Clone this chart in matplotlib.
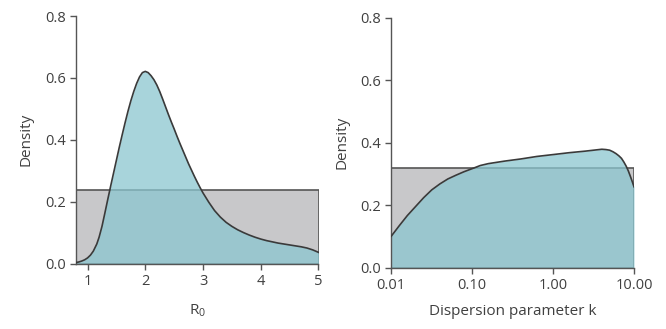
import numpy as np
import matplotlib
matplotlib.use("Agg")
import matplotlib.pyplot as plt
from matplotlib.patches import Rectangle

plt.rcParams["font.family"] = ["Open Sans", "DejaVu Sans"]
TXT = "#404040"

# ---- left panel: R0 posterior vs uniform prior ----
r0_x = [0.80, 0.85, 0.90, 0.95, 1.00, 1.05, 1.10, 1.16, 1.20, 1.25, 1.30, 1.35,
        1.40, 1.45, 1.50, 1.55, 1.60, 1.65, 1.70, 1.75, 1.80, 1.85, 1.90, 1.95,
        2.00, 2.05, 2.10, 2.15, 2.20, 2.25, 2.30, 2.35, 2.40, 2.45, 2.50, 2.55,
        2.60, 2.65, 2.70, 2.75, 2.80, 2.85, 2.90, 2.95, 3.00, 3.10, 3.20, 3.30,
        3.40, 3.50, 3.60, 3.70, 3.80, 3.90, 4.00, 4.10, 4.20, 4.30, 4.40, 4.50,
        4.60, 4.70, 4.80, 4.90, 5.00]
r0_y = [0.003, 0.005, 0.008, 0.012, 0.018, 0.027, 0.040, 0.063, 0.085, 0.120,
        0.163, 0.207, 0.250, 0.292, 0.334, 0.376, 0.416, 0.455, 0.492, 0.526,
        0.556, 0.582, 0.603, 0.617, 0.621, 0.617, 0.607, 0.594, 0.577, 0.556,
        0.532, 0.507, 0.482, 0.458, 0.435, 0.411, 0.388, 0.366, 0.344, 0.322,
        0.302, 0.282, 0.263, 0.245, 0.228, 0.198, 0.171, 0.150, 0.133, 0.120,
        0.109, 0.100, 0.092, 0.085, 0.079, 0.074, 0.070, 0.066, 0.063, 0.060,
        0.057, 0.054, 0.050, 0.044, 0.036]
r0_prior = 0.238
r0_lim = (0.8, 5.0)
r0_ticks = [1, 2, 3, 4, 5]

# ---- right panel: dispersion k posterior vs log-uniform prior ----
k_x = [0.01, 0.0126, 0.0158, 0.02, 0.0251, 0.0316, 0.0398, 0.05, 0.063, 0.079,
       0.1, 0.126, 0.158, 0.25, 0.4, 0.63, 1.0, 1.58, 2.5, 4.0, 4.5, 5.0, 5.5,
       6.0, 6.5, 7.0, 7.5, 8.0, 8.5, 9.0, 9.5, 10.0]
k_y = [0.101, 0.135, 0.167, 0.196, 0.224, 0.249, 0.268, 0.284, 0.296, 0.307,
       0.317, 0.327, 0.333, 0.341, 0.348, 0.356, 0.362, 0.368, 0.373, 0.379,
       0.378, 0.376, 0.371, 0.365, 0.358, 0.350, 0.338, 0.325, 0.310, 0.293,
       0.276, 0.259]
k_prior = 0.32
k_lim = (0.01, 10.0)
k_ticks = [0.01, 0.1, 1, 10]
k_ticklabels = ["0.01", "0.10", "1.00", "10.00"]

GREY = "#c8c8ca"
TEAL = "#8bc6d0"
EDGE = "#3a3a3a"

fig = plt.figure(figsize=(6.66, 3.29), dpi=100)
axL = fig.add_axes([76 / 666, 1 - 263.5 / 329, (318.5 - 76) / 666, (263.5 - 16) / 329])
axR = fig.add_axes([391.3 / 666, 1 - 267.7 / 329, (634 - 391.3) / 666, (267.7 - 17.7) / 329])


def style(ax):
    for s in ["top", "right"]:
        ax.spines[s].set_visible(False)
    for s in ["left", "bottom"]:
        ax.spines[s].set_color("#555555")
        ax.spines[s].set_linewidth(1.0)
    ax.tick_params(colors="#555555", labelcolor=TXT, labelsize=10.5, length=4, width=1)
    ax.set_ylim(0, 0.8)
    ax.set_yticks([0, 0.2, 0.4, 0.6, 0.8])
    ax.set_yticklabels(["0.0", "0.2", "0.4", "0.6", "0.8"])
    ax.set_ylabel("Density", color=TXT, fontsize=11, labelpad=8)


# left
axL.add_patch(Rectangle((r0_lim[0], 0), r0_lim[1] - r0_lim[0], r0_prior,
                        facecolor=GREY, edgecolor="#555555", lw=1.2, zorder=1))
axL.fill_between(r0_x, 0, r0_y, color=TEAL, alpha=0.75, lw=0, zorder=2)
axL.plot(r0_x, r0_y, color=EDGE, lw=1.2, zorder=3, solid_joinstyle="round")
axL.set_xlim(*r0_lim)
axL.set_xticks(r0_ticks)
axL.set_xlabel(r"$\mathregular{R_0}$", color=TXT, fontsize=11, labelpad=10)
style(axL)

# right
axR.set_xscale("log")
axR.add_patch(Rectangle((k_lim[0], 0), k_lim[1] - k_lim[0], k_prior,
                        facecolor=GREY, edgecolor="#555555", lw=1.2, zorder=1))
axR.fill_between(k_x, 0, k_y, color=TEAL, alpha=0.75, lw=0, zorder=2)
axR.plot(k_x, k_y, color=EDGE, lw=1.2, zorder=3, solid_joinstyle="round")
axR.set_xlim(*k_lim)
axR.set_xticks(k_ticks)
axR.set_xticklabels(k_ticklabels)
axR.minorticks_off()
axR.set_xlabel("Dispersion parameter k", color=TXT, fontsize=11, labelpad=8)
style(axR)

fig.savefig("out.png", dpi=100)
